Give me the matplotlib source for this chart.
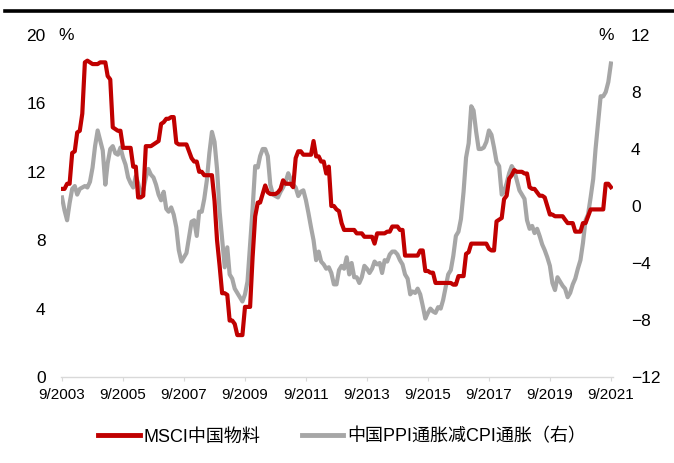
import numpy as np
import pandas as pd
import matplotlib
matplotlib.use("Agg")
import matplotlib.pyplot as plt
from matplotlib.lines import Line2D

plt.rcParams['font.family'] = ['Liberation Sans', 'Noto Sans CJK SC']

# monthly, 9/2003 .. 9/2021
dates = pd.date_range("2003-09-01", "2021-09-01", freq="MS")

# MSCI中国物料 (left axis, %)
msci_materials = [
    11.0, 11.0, 11.3, 11.3,
    13.1, 13.2, 14.3, 14.4, 15.4, 18.4, 18.5, 18.4, 18.3, 18.3, 18.3, 18.4,
    18.4, 18.4, 17.6, 17.4, 14.6, 14.5, 14.4, 14.4, 13.4, 13.4, 13.4, 13.4,
    12.3, 12.3, 10.5, 10.5, 10.6, 13.5, 13.5, 13.5, 13.6, 13.7, 13.8, 14.8,
    14.9, 15.1, 15.1, 15.2, 15.2, 13.7, 13.6, 13.6, 13.6, 13.6, 13.2, 12.8,
    12.6, 12.6, 12.0, 12.0, 11.8, 11.8, 11.8, 11.8, 10.3, 8.0, 6.5, 4.9,
    4.9, 4.8, 3.3, 3.3, 3.1, 2.45, 2.45, 2.45, 4.1, 4.1, 4.1, 7.0,
    9.4, 10.2, 10.2, 10.7, 11.2, 10.8, 10.7, 10.7, 10.7, 10.8, 11.0, 11.5,
    11.3, 11.3, 11.3, 11.1, 12.8, 13.2, 13.2, 13.0, 13.0, 13.0, 13.0, 13.8,
    12.9, 12.9, 12.6, 12.6, 11.9, 12.3, 10.0, 10.0, 9.8, 9.7, 9.0, 8.6,
    8.6, 8.6, 8.6, 8.6, 8.4, 8.4, 8.4, 8.2, 8.2, 8.2, 8.2, 7.8,
    8.4, 8.4, 8.4, 8.4, 8.5, 8.5, 8.8, 8.8, 8.8, 8.6, 8.6, 7.1,
    7.1, 7.1, 7.1, 7.1, 7.1, 7.4, 7.4, 6.2, 6.2, 6.1, 6.1, 5.5,
    5.5, 5.5, 5.5, 5.5, 5.5, 5.5, 5.4, 5.4, 5.9, 5.9, 5.9, 7.2,
    7.3, 7.8, 7.8, 7.8, 7.8, 7.8, 7.8, 7.8, 7.5, 7.4, 7.4, 9.1,
    9.2, 9.3, 10.4, 10.6, 11.6, 11.8, 12.1, 12.0, 12.0, 12.0, 11.9, 11.9,
    11.1, 11.0, 11.0, 10.8, 10.6, 10.6, 10.5, 10.0, 9.5, 9.5, 9.4, 9.4,
    9.4, 9.4, 9.2, 9.0, 9.0, 9.0, 8.5, 8.5, 8.5, 9.0, 9.0, 9.4,
    9.8, 9.8, 9.8, 9.8, 9.8, 9.8, 11.3, 11.3, 11.1,
]

# 中国PPI通胀减CPI通胀 (right axis, %)
ppi_minus_cpi = [
    0.6, -0.3, -1.0, 0.2,
    1.2, 1.4, 0.8, 1.2, 1.3, 1.4, 1.3, 1.7, 2.7, 4.2, 5.3, 4.6,
    3.9, 1.5, 3.0, 4.0, 4.2, 3.7, 3.6, 4.1, 3.4, 2.9, 2.0, 1.6,
    1.3, 2.1, 1.6, 0.8, 1.1, 2.0, 2.6, 2.2, 2.0, 1.5, 0.8, 0.4,
    1.0, -0.2, -0.4, -0.1, -0.6, -1.5, -3.1, -3.9, -3.6, -3.3, -2.2, -1.1,
    -1.0, -2.1, -0.4, -0.4, 0.5, 1.8, 3.7, 5.2, 4.5, 2.6, -0.4, -2.3,
    -4.3, -2.9, -4.8, -5.1, -5.8, -6.1, -6.4, -6.7, -6.2, -5.3, -2.7, -0.2,
    2.8, 2.7, 3.5, 4.0, 4.0, 3.5, 1.5, 0.8, 0.7, 0.6, 1.0, 1.3,
    1.7, 2.3, 1.9, 1.5, 1.3, 0.7, 1.0, 1.1, 0.4, -0.5, -1.5, -2.4,
    -3.8, -3.2, -3.9, -4.1, -4.4, -4.3, -4.7, -5.5, -5.5, -4.5, -4.2, -4.4,
    -3.6, -4.8, -4.0, -5.0, -5.0, -5.4, -5.0, -4.2, -4.4, -4.7, -4.4, -3.9,
    -4.1, -4.0, -4.7, -3.8, -3.9, -3.4, -3.2, -3.2, -3.4, -3.8, -4.1, -4.8,
    -5.1, -6.2, -6.0, -6.1, -5.8, -6.2, -7.0, -7.9, -7.5, -7.2, -7.4, -7.5,
    -7.1, -7.2, -6.6, -5.7, -4.8, -4.5, -3.5, -2.1, -1.8, -0.9, 1.0, 3.4,
    4.4, 7.0, 6.7, 5.2, 4.0, 4.0, 4.1, 4.5, 5.3, 5.0, 4.1, 3.1,
    2.8, 0.8, 1.0, 1.6, 2.3, 2.8, 2.5, 1.8, 1.1, 0.8, 0.5, -1.0,
    -1.6, -1.4, -1.9, -1.6, -2.1, -2.7, -3.1, -3.6, -4.2, -5.4, -5.9, -5.0,
    -5.3, -5.6, -5.8, -6.4, -6.1, -5.5, -5.1, -4.4, -3.8, -2.6, -1.0, -0.6,
    0.6, 1.9, 4.0, 5.9, 7.7, 7.7, 8.0, 8.7, 10.0,
]

left_ticks = [0, 4, 8, 12, 16, 20]
right_ticks = [-12, -8, -4, 0, 4, 8, 12]
tick_dates = dates[::24]
tick_labels = [f"{d.month}/{d.year}" for d in tick_dates]

red = "#C00000"
grey = "#A6A6A6"

fig = plt.figure(figsize=(6.74, 4.63), dpi=100)
ax = fig.add_axes([61 / 674, 86 / 463, 552 / 674, 342 / 463])
ax2 = ax.twinx()

ax.plot(dates, msci_materials, color=red, lw=3.0, solid_joinstyle="round", zorder=3)
ax2.plot(dates, ppi_minus_cpi, color=grey, lw=3.0, solid_joinstyle="round", zorder=2)
ax.set_zorder(ax2.get_zorder() + 1)
ax.patch.set_visible(False)

ax.set_ylim(0, 20)
ax2.set_ylim(-12, 12)
ax.set_yticks(left_ticks)
ax2.set_yticks(right_ticks)
ax.set_xlim(dates[0] - pd.Timedelta(days=12), dates[-1] + pd.Timedelta(days=25))
ax.set_xticks(tick_dates)
ax.set_xticklabels(tick_labels)

for a in (ax, ax2):
    for s in a.spines.values():
        s.set_visible(False)
ax.spines['bottom'].set_visible(True)
ax.spines['bottom'].set_color("#D9D9D9")
ax.spines['bottom'].set_linewidth(1.0)

ax.tick_params(axis='x', direction='out', length=3, width=0.8, color="#D9D9D9",
               pad=5, labelsize=11, labelcolor="#000000")
ax.tick_params(axis='y', length=0, pad=11, labelsize=12.5)
ax2.tick_params(axis='y', length=0, pad=13, labelsize=12.5)

fig.text(58 / 674, 1 - 35 / 463, "%", fontsize=12.5, ha='left', va='center')
fig.text(614 / 674, 1 - 35 / 463, "%", fontsize=12.5, ha='right', va='center')

# header rule
fig.add_artist(Line2D([5 / 674, 1.0], [1 - 11 / 463, 1 - 11 / 463], color="black", lw=2.6))

handles = [Line2D([], [], color=red, lw=3.5), Line2D([], [], color=grey, lw=3.5)]
fig.legend(handles, ["MSCI中国物料", "中国PPI通胀减CPI通胀（右）"], loc='center',
           bbox_to_anchor=(342 / 674, 26 / 463), ncol=2, frameon=False, fontsize=13,
           handlelength=2.3, handletextpad=0.2, columnspacing=2.3, borderpad=0.2)

fig.savefig("out.png", dpi=100)
